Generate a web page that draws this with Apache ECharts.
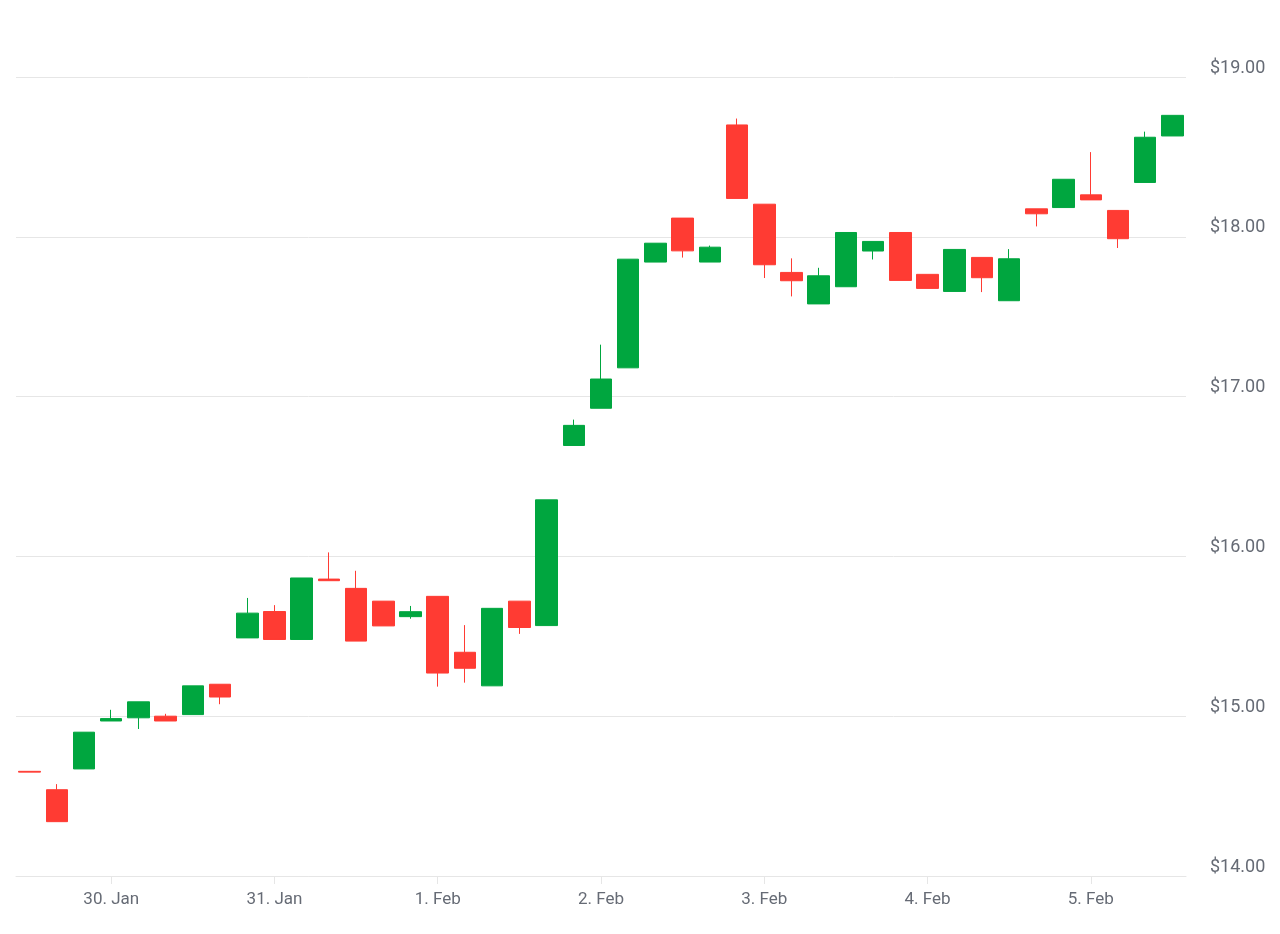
<!DOCTYPE html>
<html>
<head>
<meta charset="utf-8">
<script src="https://cdn.jsdelivr.net/npm/echarts@6/dist/echarts.min.js"></script>
<style>
html,body{margin:0;padding:0;background:#fff;}
#chart{width:1280px;height:934px;}
</style>
</head>
<body>
<div id="chart"></div>
<script>
const categories = [
  '29. Jan 12:00','29. Jan 16:00','29. Jan 20:00',
  '30. Jan 00:00','30. Jan 04:00','30. Jan 08:00','30. Jan 12:00','30. Jan 16:00','30. Jan 20:00',
  '31. Jan 00:00','31. Jan 04:00','31. Jan 08:00','31. Jan 12:00','31. Jan 16:00','31. Jan 20:00',
  '1. Feb 00:00','1. Feb 04:00','1. Feb 08:00','1. Feb 12:00','1. Feb 16:00','1. Feb 20:00',
  '2. Feb 00:00','2. Feb 04:00','2. Feb 08:00','2. Feb 12:00','2. Feb 16:00','2. Feb 20:00',
  '3. Feb 00:00','3. Feb 04:00','3. Feb 08:00','3. Feb 12:00','3. Feb 16:00','3. Feb 20:00',
  '4. Feb 00:00','4. Feb 04:00','4. Feb 08:00','4. Feb 12:00','4. Feb 16:00','4. Feb 20:00',
  '5. Feb 00:00','5. Feb 04:00','5. Feb 08:00','5. Feb 12:00'
];
const opens = [
  14.655, 14.54, 14.67, 14.97, 14.99, 15.00, 15.01, 15.20, 15.49, 15.655,
  15.48, 15.858, 15.80, 15.72, 15.623, 15.75, 15.40, 15.19, 15.72, 15.567,
  16.694, 16.927, 17.18, 17.842, 18.117, 17.842, 18.70, 18.204, 17.777, 17.58,
  17.6875, 17.911, 18.027, 17.765, 17.658, 17.871, 17.60, 18.175, 18.183, 18.2625,
  18.165, 18.34, 18.631
];
const closes = [
  14.650, 14.34, 14.90, 14.985, 15.09, 14.97, 15.19, 15.12, 15.645, 15.48,
  15.865, 15.848, 15.47, 15.565, 15.654, 15.27, 15.30, 15.675, 15.555, 16.354,
  16.82, 17.11, 17.86, 17.96, 17.912, 17.935, 18.24, 17.825, 17.725, 17.756,
  18.027, 17.971, 17.727, 17.677, 17.921, 17.744, 17.8625, 18.144, 18.36, 18.231,
  17.988, 18.623, 18.76
];
const lows = [
  14.650, 14.34, 14.67, 14.97, 14.92, 14.97, 15.01, 15.075, 15.49, 15.48,
  15.48, 15.848, 15.47, 15.565, 15.61, 15.185, 15.21, 15.19, 15.515, 15.567,
  16.694, 16.927, 17.18, 17.842, 17.87, 17.842, 18.24, 17.742, 17.627, 17.58,
  17.6875, 17.858, 17.727, 17.677, 17.658, 17.654, 17.60, 18.065, 18.183, 18.231,
  17.93, 18.34, 18.631
];
const highs = [
  14.655, 14.575, 14.90, 15.04, 15.09, 15.015, 15.19, 15.20, 15.74, 15.695,
  15.865, 16.025, 15.91, 15.72, 15.69, 15.75, 15.57, 15.675, 15.72, 16.354,
  16.856, 17.325, 17.86, 17.96, 18.117, 17.945, 18.74, 18.204, 17.865, 17.806,
  18.027, 17.971, 18.027, 17.765, 17.921, 17.871, 17.923, 18.175, 18.36, 18.53,
  18.165, 18.658, 18.76
];
const yTicks = [14, 15, 16, 17, 18, 19];

const ohlc = opens.map((o, i) => [o, closes[i], lows[i], highs[i]]);
const isDay = (v) => v.endsWith(' 00:00');
const UP = '#00a63f', DOWN = '#ff3b33';

const chart = echarts.init(document.getElementById('chart'));
chart.setOption({
  animation: false,
  backgroundColor: '#ffffff',
  grid: { left: 16, right: 94, top: 77, bottom: 58, containLabel: false },
  xAxis: {
    type: 'category',
    data: categories,
    boundaryGap: true,
    axisLine: { show: true, lineStyle: { color: '#e6e6e6', width: 1 } },
    axisTick: {
      show: true, alignWithLabel: true, length: 8,
      interval: (i, v) => isDay(v),
      lineStyle: { color: '#e6e6e6' }
    },
    axisLabel: {
      interval: (i, v) => isDay(v),
      formatter: (v) => isDay(v) ? v.slice(0, -6) : '',
      color: '#666b75', fontFamily: 'Roboto', fontSize: 17, margin: 15
    },
    splitLine: { show: false }
  },
  yAxis: {
    type: 'value',
    position: 'right',
    min: yTicks[0], max: yTicks[yTicks.length - 1], interval: 1,
    axisLine: { show: false },
    axisTick: { show: false },
    splitLine: { lineStyle: { color: '#e6e6e6', width: 1 } },
    axisLabel: {
      margin: 24,
      color: '#666b75', fontFamily: 'Roboto', fontSize: 18,
      verticalAlign: 'bottom', lineHeight: 18,
      formatter: (v) => '$' + v.toFixed(2)
    }
  },
  series: [{
    type: 'candlestick',
    data: ohlc,
    barWidth: 22,
    itemStyle: {
      color: UP, color0: DOWN,
      borderColor: UP, borderColor0: DOWN,
      borderWidth: 1
    }
  }]
});
</script>
</body>
</html>
